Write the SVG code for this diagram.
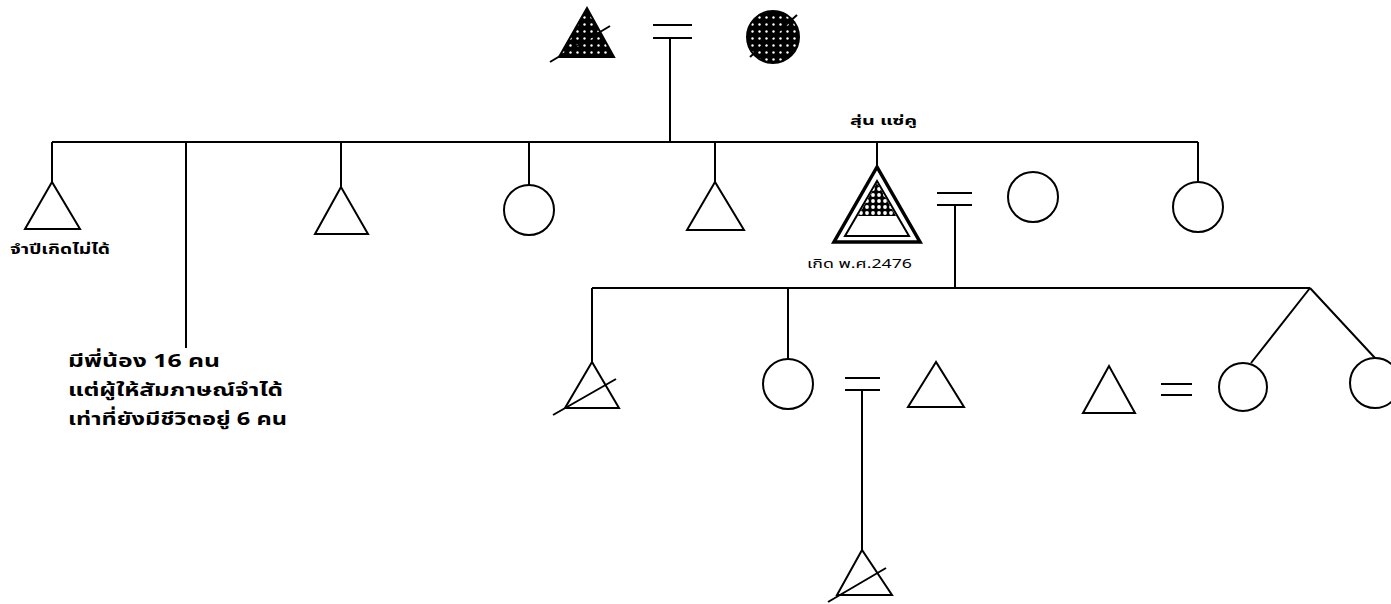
<svg xmlns="http://www.w3.org/2000/svg" width="1391" height="604" viewBox="0 0 1391 604">
<style>
.ln{stroke:#000;stroke-width:2;fill:none}
.sym{stroke:#000;stroke-width:2;fill:#fff}
.thk{stroke:#000;stroke-width:3.5;fill:#fff}
.t{font-family:"Noto Sans Thai","Noto Sans","DejaVu Sans","Liberation Sans",sans-serif;fill:#000}
</style>
<defs>
<pattern id="dots" width="7" height="7" patternUnits="userSpaceOnUse">
<rect width="7" height="7" fill="#000"/>
<circle cx="3.5" cy="3.5" r="1.2" fill="#fff"/>
</pattern>
<pattern id="net" width="6" height="6" patternUnits="userSpaceOnUse">
<rect width="6" height="6" fill="#000"/>
<circle cx="3" cy="3" r="1.9" fill="#fff"/>
</pattern>
</defs>
<rect width="1391" height="604" fill="#fff"/>

<g id="connectors" class="ln">
<path d="M653 25H692M653 38H692M670 38V142"/>
<path d="M52 142H1198"/>
<path d="M52 142V182M186 142V348M341 142V187M529 142V185M715 142V182M877 142V167M1198 142V182"/>
<path d="M937 193H972M937 205H972M955 205V288"/>
<path d="M592 288H1310M592 288V362M788 288V360"/>
<path d="M1310 288L1251 363M1310 288L1375 358"/>
<path d="M845 378H880M845 390H880M862 390V550"/>
<path d="M1161 384H1192M1161 395H1192"/>
</g>

<g id="grandfather">
<polygon points="587,8 559,57 614,57" fill="url(#dots)" stroke="#000" stroke-width="2"/>
<line x1="550" y1="62" x2="610" y2="26" class="ln"/>
</g>
<g id="grandmother">
<circle cx="773" cy="37" r="26" fill="url(#dots)" stroke="#000" stroke-width="2"/>
<line x1="750" y1="57" x2="797" y2="15" class="ln"/>
</g>

<g id="sib1">
<polygon points="52,182 25,229 80,229" class="sym"/>
<text x="10" y="254" class="t" font-size="14" font-weight="bold" textLength="100" lengthAdjust="spacingAndGlyphs">จำปีเกิดไม่ได้</text>
</g>
<g id="sib-note">
<text class="t" font-size="18" font-weight="bold"><tspan x="68" y="367" textLength="152" lengthAdjust="spacingAndGlyphs">มีพี่น้อง 16 คน</tspan><tspan x="68" y="396" textLength="215" lengthAdjust="spacingAndGlyphs">แต่ผู้ให้สัมภาษณ์จำได้</tspan><tspan x="68" y="425" textLength="219" lengthAdjust="spacingAndGlyphs">เท่าที่ยังมีชีวิตอยู่ 6 คน</tspan></text>
</g>
<g id="sib3"><polygon points="341,187 315,234 368,234" class="sym"/></g>
<g id="sib4"><circle cx="529" cy="210" r="25" class="sym"/></g>
<g id="sib5"><polygon points="715,182 687,230 744,230" class="sym"/></g>
<g id="ego">
<text x="850" y="125" class="t" font-size="12" font-weight="bold" textLength="67" lengthAdjust="spacingAndGlyphs">สุ่น แซ่คู</text>
<polygon points="877,167 834,242 920,242" class="thk"/>
<polygon points="877,181 845,236 909,236" class="sym" stroke-width="1.5"/>
<polygon points="877,183 858,216 896,216" fill="url(#net)"/>
<text x="807" y="268" class="t" font-size="13" textLength="105" lengthAdjust="spacingAndGlyphs">เกิด พ.ศ.2476</text>
</g>
<g id="ego-spouse"><circle cx="1033" cy="197" r="25" class="sym"/></g>
<g id="sib7"><circle cx="1198" cy="207" r="25" class="sym"/></g>

<g id="child1">
<polygon points="592,362 565,408 619,408" class="sym"/>
<line x1="553" y1="415" x2="616" y2="379" class="ln"/>
</g>
<g id="child2"><circle cx="788" cy="384" r="25" class="sym"/></g>
<g id="child2-spouse"><polygon points="936,362 908,407 964,407" class="sym"/></g>
<g id="grandchild">
<polygon points="862,550 837,595 892,595" class="sym"/>
<line x1="828" y1="602" x2="886" y2="568" class="ln"/>
</g>
<g id="child3-spouse"><polygon points="1109,366 1083,413 1135,413" class="sym"/></g>
<g id="child3"><circle cx="1243" cy="387" r="24" class="sym"/></g>
<g id="child4"><circle cx="1375" cy="383" r="25" class="sym"/></g>
</svg>
